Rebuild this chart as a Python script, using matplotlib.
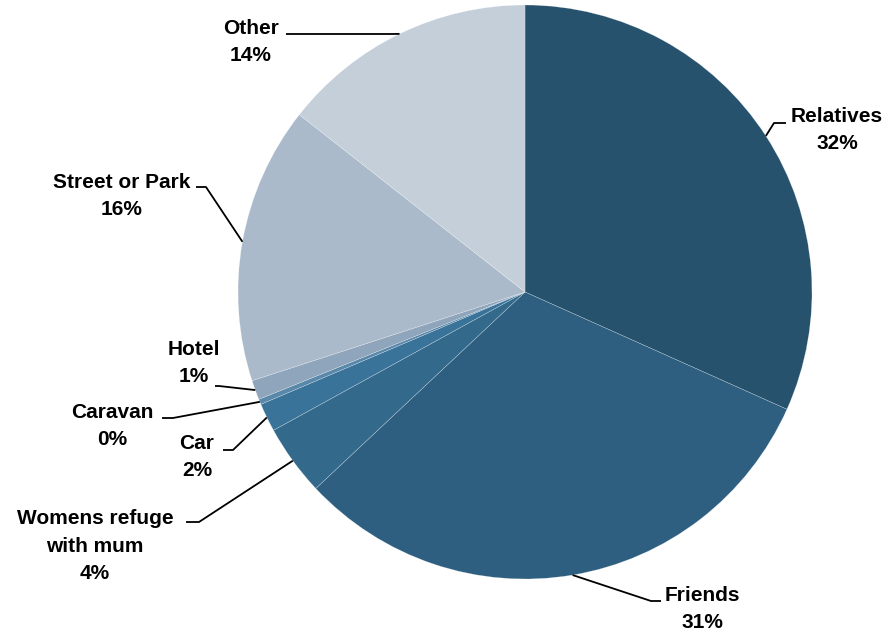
import matplotlib
matplotlib.use("Agg")
import matplotlib.pyplot as plt
import numpy as np

# Where children stayed (share of responses, %)
categories = ["Relatives", "Friends", "Womens refuge\nwith mum", "Car",
              "Caravan", "Hotel", "Street or Park", "Other"]
shares = [31.7, 31.3, 4.0, 1.6, 0.3, 1.1, 15.6, 14.4]
colors = ["#27526d", "#2e5f80", "#336a8c", "#3a7399",
          "#5a88aa", "#8fa5bb", "#abbacb", "#c5cfda"]

plt.rcParams['font.family'] = ['Liberation Sans', 'DejaVu Sans']

W, H = 887, 635
fig = plt.figure(figsize=(W / 100, H / 100), dpi=100)
ax = fig.add_axes([0, 0, 1, 1])

cx, cy, r = 525, H - 292, 287
wedges, _ = ax.pie(shares, colors=colors, startangle=90, counterclock=False,
                   radius=r, center=(cx, cy), frame=True,
                   wedgeprops=dict(edgecolor=(1, 1, 1, 0.5), linewidth=0.3))
ax.set_xlim(0, W)
ax.set_ylim(0, H)
ax.axis('off')

# label layout in pixel coords (top-origin): text centre, elbow, line end
layout = {
    "Relatives": ((837, 130), (774, 123), (786, 123)),
    "Friends": ((702, 609), (651, 601), (661, 601)),
    "Womens refuge\nwith mum": ((95, 546), (199, 522), (186, 522)),
    "Car": ((197, 457), (233, 450), (223, 450)),
    "Caravan": ((112, 426), (173, 418), (162, 418)),
    "Hotel": ((194, 363), (219, 386), (215, 386)),
    "Street or Park": ((122, 196), (206, 187), (196, 187)),
    "Other": ((251, 42), (392, 34), (286, 34)),
}

for w, name, val in zip(wedges, categories, shares):
    theta = np.deg2rad((w.theta1 + w.theta2) / 2)
    x0 = cx + r * np.cos(theta)
    y0 = cy + r * np.sin(theta)
    (tx, ty), (ex, ey), (hx, hy) = layout[name]
    ax.plot([x0, ex, hx], [y0, H - ey, H - hy], color='black', lw=1.3,
            solid_capstyle='butt')
    ax.text(tx, H - ty, f"{name}\n{round(val):d}%", ha='center', va='center',
            fontsize=15, fontweight='bold', linespacing=1.55)

fig.savefig("out.png", dpi=100)
